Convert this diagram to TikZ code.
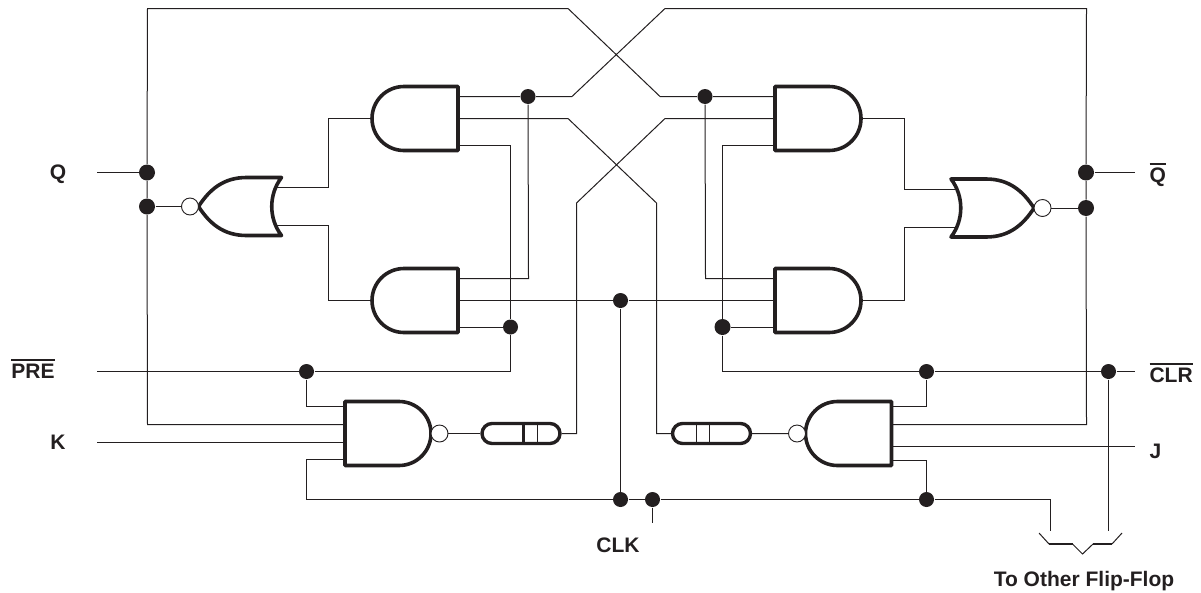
\documentclass[tikz,border=0pt]{standalone}
\usepackage{fontspec}
\setmainfont{Liberation Sans}
\usetikzlibrary{shapes.misc}
\definecolor{ink}{HTML}{231F20}
\newcommand{\barlabel}[1]{\leavevmode\vbox{\hrule height 2.2pt \kern 2.8pt \hbox{#1}}}
\tikzset{
  gateline/.style={line width=3.6pt, line join=round},
  junction/.style={circle, fill=ink, inner sep=0, minimum size=16pt},
  bubble/.style={circle, draw=ink, fill=white, line width=.9pt, inner sep=0, minimum size=17pt},
  pill/.style={rounded rectangle, draw=ink, line width=3.4pt, minimum width=78pt, minimum height=20pt, inner sep=0},
  pinlabel/.style={font=\fontsize{21}{24}\selectfont\bfseries, text=ink, inner sep=0},
  andgate/.pic={
    \draw[gateline] (54,-32) -- (0,-32) -- (0,32) -- (54,32)
      .. controls (71.7,32) and (86,17.7) .. (86,0)
      .. controls (86,-17.7) and (71.7,-32) .. (54,-32) -- cycle;
    \coordinate (-a) at (0,-22);
    \coordinate (-b) at (0,0);
    \coordinate (-c) at (0,26.5);
    \coordinate (-o) at (86,0);
  },
  norgate/.pic={
    \draw[gateline] (0,-29) -- (35,-29)
      .. controls (58,-29) and (72,-17) .. (83,0)
      .. controls (72,17) and (58,29) .. (35,29) -- (0,29)
      .. controls (13,12) and (13,-12) .. (0,-29) -- cycle;
    \coordinate (-a) at (5,-19);
    \coordinate (-b) at (5,19);
  }
}

\begin{document}
\begin{tikzpicture}[x=1pt, y=-1pt, line width=1pt, draw=ink]
  \useasboundingbox (0,0) rectangle (1201,592);
  % gates
  \pic (gA) at (458,118.5) [xscale=-1] {andgate};
  \pic (gF) at (458,300.5) [xscale=-1] {andgate};
  \pic (gB) at (775,118.5) {andgate};
  \pic (gE) at (775,300.5) {andgate};
  \pic (gC) at (345,433.5) {andgate};
  \pic (gD) at (891.5,433.5) [xscale=-1] {andgate};
  \pic (norL) at (281.5,206.5) [xscale=-1] {norgate};
  \pic (norR) at (951,208) {norgate};
  \node[bubble] (bubNorL) at (190,206.5) {};
  \node[bubble] (bubNorR) at (1042.5,208) {};
  \node[bubble] (bubC) at (439.5,433.5) {};
  \node[bubble] (bubD) at (797,433.5) {};
  \node[pill] (pillL) at (521,433.5) {};
  \node[pill] (pillR) at (711.5,433.5) {};
  \draw[line width=3pt] ([xshift=2]pillL.north) -- ([xshift=2]pillL.south);
  \draw ([xshift=16]pillL.north) -- ([xshift=16]pillL.south);
  \draw ([xshift=-15.5]pillR.north) -- ([xshift=-15.5]pillR.south);
  \draw ([xshift=-2]pillR.north) -- ([xshift=-2]pillR.south);
  % junctions
  \node[junction] (jQ) at (147,172.5) {};
  \node[junction] (jNorL) at (147,206.5) {};
  \node[junction] (jQbar) at (1086,172.5) {};
  \node[junction] (jNorR) at (1086,208) {};
  \node[junction, minimum size=15pt] (jTopL) at (528,96.5) {};
  \node[junction, minimum size=15pt] (jTopR) at (705,96.5) {};
  \node[junction, minimum size=15pt] (jPreUp) at (510.5,327) {};
  \node[junction] (jClrUp) at (722.5,327) {};
  \node[junction, minimum size=15pt] (jPre) at (306.5,371.5) {};
  \node[junction, minimum size=15pt] (jClrD) at (926.5,371.5) {};
  \node[junction, minimum size=15pt] (jClrR) at (1108.5,371.5) {};
  \node[junction, minimum size=15pt] (jClk) at (620.5,300.5) {};
  \node[junction, minimum size=15pt] (jClkL) at (620.5,499.5) {};
  \node[junction, minimum size=15pt] (jClkR) at (652.5,499.5) {};
  \node[junction, minimum size=15pt] (jDb) at (926.5,499.5) {};
  % free ends
  \coordinate (qEnd) at (97,172.5);
  \coordinate (qbarEnd) at (1135,172.5);
  \coordinate (preEnd) at (97,371.5);
  \coordinate (clrEnd) at (1135,371.5);
  \coordinate (kEnd) at (97,442.5);
  \coordinate (jEnd) at (1135,446.5);
  \coordinate (clkEnd) at (652.5,523);
  \coordinate (brA) at (1050.5,531);
  \coordinate (brB) at (1108.5,531);
  \coordinate (cA) at (345,406.5);
  \coordinate (cB) at (345,424.5);
  \coordinate (cC) at (345,442.5);
  \coordinate (cD) at (345,459.5);
  \coordinate (dA) at (891.5,406.5);
  \coordinate (dB) at (891.5,424.5);
  \coordinate (dC) at (891.5,446.5);
  \coordinate (dD) at (891.5,460.5);
  % cross-coupled wires
  \draw (gA-a) -- (jTopL) -- (572,96.5) -- (665,8.5) -- (1086.5,8.5) -- (jQbar) -- (jNorR) -- (1086.5,424.5) -- (dB);
  \draw (gB-a) -- (jTopR) -- (660,96.5) -- (568,8.5) -- (147.5,8.5) -- (jQ) -- (jNorL) -- (147.5,424.5) -- (cB);
  \draw (gA-b) -- (568,118.5) -- (656.5,203) -- (656.5,433.5) -- (pillR);
  \draw (pillL) -- (576.5,433.5) -- (576.5,203) -- (665,118.5) -- (gB-b);
  % left side
  \draw (qEnd) -- (jQ);
  \draw (jNorL) -- (bubNorL);
  \draw (norL-a) -- (328.5,187.5) -- (328.5,118.5) -- (gA-o);
  \draw (norL-b) -- (328.5,225.5) -- (328.5,300.5) -- (gF-o);
  \draw (gA-c) -- (510.5,145) -- (jPreUp) -- (gF-c);
  \draw (gF-a) -- (528.5,278.5) -- (jTopL);
  \draw (preEnd) -- (jPre) -- (510.5,371.5) -- (jPreUp);
  \draw (jPre) -- (306.5,406.5) -- (cA);
  \draw (kEnd) -- (cC);
  \draw (bubC) -- (pillL);
  % right side
  \draw (jQbar) -- (qbarEnd);
  \draw (bubNorR) -- (jNorR);
  \draw (gB-o) -- (904.5,118.5) -- (904.5,189) -- (norR-a);
  \draw (gE-o) -- (904.5,300.5) -- (904.5,227) -- (norR-b);
  \draw (gE-a) -- (705.5,278.5) -- (jTopR);
  \draw (gB-c) -- (722.5,145) -- (jClrUp) -- (gE-c);
  \draw (jClrUp) -- (722.5,371.5) -- (jClrD) -- (jClrR) -- (clrEnd);
  \draw (dA) -- (926.5,406.5) -- (jClrD);
  \draw (dC) -- (jEnd);
  \draw (dD) -- (926.5,460.5) -- (jDb);
  \draw (bubD) -- (pillR);
  % clock
  \draw (gF-b) -- (jClk) -- (gE-b);
  \draw (jClk) -- (jClkL);
  \draw (cD) -- (306.5,459.5) -- (306.5,499.5) -- (jClkL) -- (jClkR) -- (jDb) -- (1050.5,499.5) -- (brA);
  \draw (jClkR) -- (clkEnd);
  \draw (jClrR) -- (brB);
  % brace
  \draw (1039,533) -- (1049,544);
  \draw[line width=2pt] (1049,544) -- (1072.5,544);
  \draw (1072.5,544) -- (1082.5,554) -- (1093,544);
  \draw[line width=2pt] (1093,544) -- (1112,544);
  \draw (1112,544) -- (1122,533);
  % labels
  \node[pinlabel, anchor=base] (lQ) at (58,179.5) {Q};
  \node[pinlabel, anchor=base] (lK) at (58,449) {K};
  \node[pinlabel, anchor=base] (lPre) at (33,378.5) {\barlabel{PRE}};
  \node[pinlabel, anchor=base west] (lQbar) at (1149,182.5) {\barlabel{Q}};
  \node[pinlabel, anchor=base west] (lClr) at (1149,382.5) {\barlabel{CLR}};
  \node[pinlabel, anchor=base west] (lJ) at (1149,458) {J};
  \node[pinlabel, anchor=base] (lClk) at (618,552) {CLK};
  \node[pinlabel, anchor=base] (lOther) at (1084,586.5) {To Other Flip-Flop};
\end{tikzpicture}
\end{document}
